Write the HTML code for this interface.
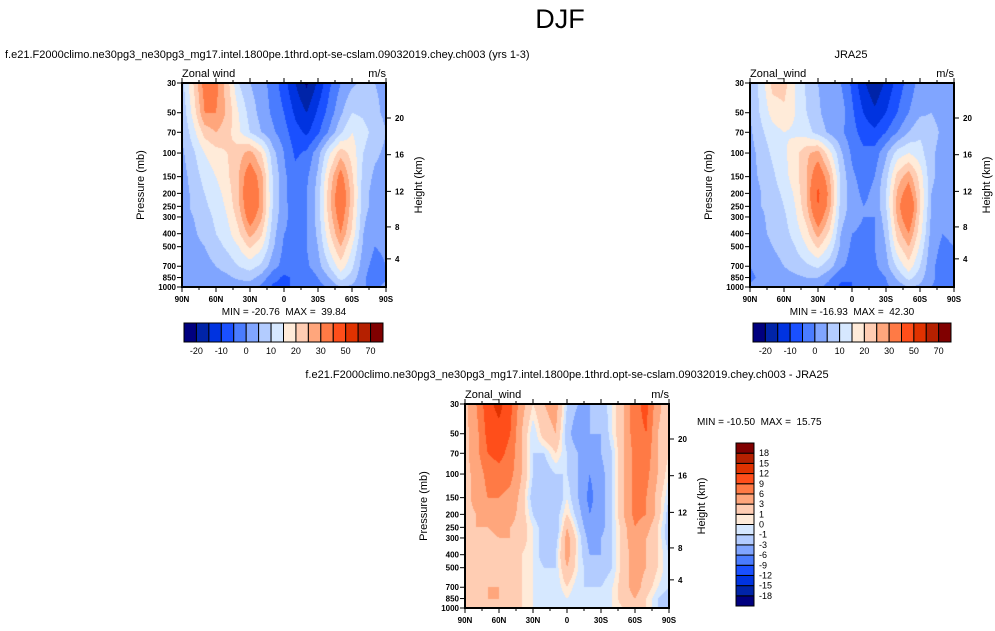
<!DOCTYPE html>
<html><head><meta charset="utf-8">
<style>
body{margin:0;background:#fff;width:995px;height:631px;overflow:hidden;position:relative;font-family:"Liberation Sans",sans-serif;}
canvas{position:absolute;}
svg{position:absolute;left:0;top:0;}
</style></head>
<body>
<canvas id="c1"></canvas>
<canvas id="c2"></canvas>
<canvas id="c3"></canvas>
<svg id="ov" width="995" height="631"></svg>
<script>
const lats = [90,80,70,60,50,40,30,20,10,0,-10,-20,-30,-40,-50,-60,-70,-80,-90];
const pres = [30,50,70,100,150,200,250,300,400,500,700,850,1000];
const presTicks = [30,50,70,100,150,200,250,300,400,500,700,850,1000];
const latTicks = [90,60,30,0,-30,-60,-90];
const latTickLabels = ["90N","60N","30N","0","30S","60S","90S"];
const heightTicks = [4,8,12,16,20];
const windLevels = [-20,-15,-10,-5,0,5,10,15,20,25,30,40,50,60,70];
const windLabels = ["-20","-10","0","10","20","30","50","70"];
const diffLevels = [-18,-15,-12,-9,-6,-3,-1,0,1,3,6,9,12,15,18];
const colors = ["#00007f","#0024a8","#0033e0","#1a50ff","#4a7cff","#80a5ff","#b3ccff","#d6e8ff","#ffebd9","#ffcdb3","#ffa67c","#ff7a45","#ff4e1a","#e03200","#b52000","#800000"];

const modelU = [
[8,20,33,32,22,10,5,2,-2,-8,-15,-21,-14,-6,0,4,6,5,4],
[6,17,30,30,24,15,8,3,-1,-5,-11,-15,-9,-3,4,10,9,6,4],
[5,13,22,25,22,16,10,5,1,-3,-8,-11,-6,1,9,15,12,8,5],
[4,9,15,18,20,23,27,20,7,0,-6,-4,3,14,23,18,10,6,4],
[3,7,12,15,19,25,35,27,10,1,-3,-1,6,21,33,21,8,4,3],
[3,6,10,13,17,25,38,28,10,1,-3,0,7,23,36,23,7,3,2],
[3,6,9,12,16,24,37,28,10,1,-2,0,7,23,36,22,7,3,2],
[3,5,8,11,15,22,34,26,9,1,-2,0,7,22,34,21,6,2,2],
[2,4,7,10,13,19,27,21,7,0,-1,0,6,19,30,19,5,1,2],
[2,3,5,8,11,15,21,16,6,-1,-1,0,5,16,25,15,4,0,1],
[1,2,3,5,7,10,12,9,2,-2,-2,-1,3,10,18,11,2,-2,0],
[2,2,2,3,4,6,7,3,-3,-6,-4,-4,0,5,12,8,1,-3,-2],
[3,2,1,1,1,2,2,-1,-6,-7,-3,-5,-2,1,5,4,1,-3,3]];
const jraU = [
[6,12,22,22,15,9,5,2,0,-6,-14,-19,-14,-8,-3,2,4,3,1],
[5,11,17,19,15,10,6,2,3,-4,-10,-14,-10,-5,0,4,5,3,1],
[4,9,13,15,14,12,8,4,1,-3,-7,-9,-5,0,5,9,7,4,2],
[3,7,11,14,18,24,27,17,6,-1,-4,-3,4,12,15,12,6,3,2],
[3,6,9,13,18,25,36,26,9,1,-2,0,8,22,28,18,6,3,2],
[2,5,8,11,16,25,42,28,9,2,-1,1,10,26,34,20,5,2,1],
[2,5,7,10,15,24,40,27,8,3,0,1,10,27,40,20,5,2,1],
[2,4,7,9,14,22,35,24,7,2,0,0,8,26,36,19,4,1,1],
[1,4,6,8,12,18,27,19,5,0,-1,0,6,22,30,17,3,0,1],
[1,3,5,7,10,15,21,14,4,-1,-1,0,5,18,25,14,2,-1,0],
[0,2,3,5,7,9,11,7,1,-2,-2,-1,3,11,18,10,1,-2,-1],
[-1,1,2,3,4,5,5,1,-4,-5,-3,-3,0,6,12,7,1,-2,-2],
[1,1,1,1,1,2,1,-2,-6,-5,-2,-3,-1,2,5,4,0,-2,0]];
const diffU = [
[2,6,11,13,10,4,1,3,4,-1,-3,-3,-2,0,3,8,10,4,1],
[2,5,10,11,9,3,-1,2,3,-2,-5,-3,-3,0,3,8,9,3,1],
[2,5,9,10,8,3,-1,-1,1,-1,-3,-4,-3,-1,3,7,8,3,1],
[2,4,7,8,7,3,-1,-2,-1,-1,-3,-6,-4,-1,3,7,7,3,0],
[2,4,6,6,5,2,-2,-2,-3,0,-3,-7,-4,-1,3,7,6,2,-1],
[2,3,5,6,4,2,-1,-3,-2,1,-2,-6,-4,-1,3,7,6,2,-2],
[2,3,3,4,3,2,0,-2,-3,3,-1,-5,-4,-1,2,6,4,1,-2],
[2,2,2,3,3,2,0,-2,-2,4,0,-4,-3,-1,2,5,3,1,-2],
[2,2,2,2,2,1,0,-2,-1,4,0,-3,-3,-1,2,4,3,1,-1],
[2,2,2,2,2,1,0,-1,-1,3,0,-2,-2,-1,2,4,3,1,-1],
[2,2,3,3,2,1,0,-1,-1,1,-1,-1,-1,0,2,4,2,0,-1],
[2,2,3,3,2,1,0,-1,-1,0,-1,-1,-1,0,2,3,1,-1,-2],
[1,1,2,2,1,1,0,-1,-1,0,-1,-1,-1,0,1,2,1,-1,-2]];

const NS="http://www.w3.org/2000/svg";
const ov=document.getElementById('ov');
function el(tag,attrs,text){const e=document.createElementNS(NS,tag);for(const k in attrs)e.setAttribute(k,attrs[k]);if(text!==undefined)e.textContent=text;ov.appendChild(e);return e;}
const LP0=Math.log(30),LP1=Math.log(1000);
function yOfP(P,t,h){return t+(Math.log(P)-LP0)/(LP1-LP0)*h;}
function xOfLat(lat,l,w){return l+(90-lat)/180*w;}
function pOfZ(z){z*=1000;if(z<=11000)return 1013.25*Math.pow(1-0.0065*z/288.15,5.2559);return 226.32*Math.exp(-(z-11000)/6341.6);}
function colorIdx(v,lv){let i=0;while(i<lv.length&&v>=lv[i])i++;return i;}
function sample(grid,lat,P){
  let fj=(90-lat)/10;fj=Math.max(0,Math.min(17.9999,fj));const j=Math.floor(fj),dj=fj-j;
  let i=0;while(i<pres.length-2&&P>pres[i+1])i++;
  let di=(Math.log(P)-Math.log(pres[i]))/(Math.log(pres[i+1])-Math.log(pres[i]));di=Math.max(0,Math.min(1,di));
  const a=grid[i][j],b=grid[i][j+1],c=grid[i+1][j],d=grid[i+1][j+1];
  return (a*(1-dj)+b*dj)*(1-di)+(c*(1-dj)+d*dj)*di;
}
function hex(c){return [parseInt(c.slice(1,3),16),parseInt(c.slice(3,5),16),parseInt(c.slice(5,7),16)];}
const rgb=colors.map(hex);

function panel(id,grid,lv,L,T,W,H,leftTitle){
  const cv=document.getElementById(id);cv.width=W;cv.height=H;cv.style.left=L+'px';cv.style.top=T+'px';
  const ctx=cv.getContext('2d');const img=ctx.createImageData(W,H);
  for(let y=0;y<H;y++){const P=Math.exp(LP0+(y+0.5)/H*(LP1-LP0));
    for(let x=0;x<W;x++){const lat=90-(x+0.5)/W*180;const v=sample(grid,lat,P);const c=rgb[colorIdx(v,lv)];
      const k=(y*W+x)*4;img.data[k]=c[0];img.data[k+1]=c[1];img.data[k+2]=c[2];img.data[k+3]=255;}}
  ctx.putImageData(img,0,0);
  el('rect',{x:L,y:T,width:W,height:H,fill:'none',stroke:'#000','stroke-width':2,});
  presTicks.forEach(P=>{const y=yOfP(P,T,H);
    el('line',{x1:L-5,y1:y,x2:L,y2:y,stroke:'#000','stroke-width':1});
    el('text',{x:L-6,y:y+3,'font-size':8,'text-anchor':'end','font-weight':'bold',},P);});
  heightTicks.forEach(z=>{const y=yOfP(pOfZ(z),T,H);
    el('line',{x1:L+W,y1:y,x2:L+W+5,y2:y,stroke:'#000','stroke-width':1});
    el('text',{x:L+W+9,y:y+3,'font-size':8,'font-weight':'bold',},z);});
  latTicks.forEach((lat,k)=>{const x=xOfLat(lat,L,W);
    el('line',{x1:x,y1:T+H,x2:x,y2:T+H+5,stroke:'#000','stroke-width':1});
    el('line',{x1:x,y1:T,x2:x,y2:T-5,stroke:'#000','stroke-width':1});
    el('text',{x:x,y:T+H+15,'font-size':8,'text-anchor':'middle','font-weight':'bold',},latTickLabels[k]);});
  for(let lat=-75;lat<=75;lat+=15){if(lat%30===0)continue;const x=xOfLat(lat,L,W);
    el('line',{x1:x,y1:T+H,x2:x,y2:T+H+3,stroke:'#000','stroke-width':1});
    el('line',{x1:x,y1:T,x2:x,y2:T-3,stroke:'#000','stroke-width':1});}
  el('text',{x:L,y:T-6,'font-size':11,},leftTitle);
  el('text',{x:L+W,y:T-6,'font-size':11,'text-anchor':'end',},'m/s');
  el('text',{x:0,y:0,'font-size':11,'text-anchor':'middle',transform:`translate(${L-38},${T+H/2}) rotate(-90)`,},'Pressure (mb)');
  el('text',{x:0,y:0,'font-size':11,'text-anchor':'middle',transform:`translate(${L+W+36},${T+H/2}) rotate(-90)`,},'Height (km)');
}
function hbar(L,T,W,H){const bw=W/colors.length;
  colors.forEach((c,i)=>{el('rect',{x:L+i*bw,y:T,width:bw,height:H,fill:c,stroke:'#000','stroke-width':1,});});
  windLabels.forEach((t,k)=>{el('text',{x:L+(2*k+1)*bw,y:T+H+12,'font-size':9,'text-anchor':'middle',},t);});
}
el('text',{x:560,y:28,'font-size':27,'text-anchor':'middle',},'DJF');
el('text',{x:5,y:58,'font-size':11,},'f.e21.F2000climo.ne30pg3_ne30pg3_mg17.intel.1800pe.1thrd.opt-se-cslam.09032019.chey.ch003 (yrs 1-3)');
el('text',{x:851,y:58,'font-size':11,'text-anchor':'middle',},'JRA25');
el('text',{x:567,y:378,'font-size':11,'text-anchor':'middle',},'f.e21.F2000climo.ne30pg3_ne30pg3_mg17.intel.1800pe.1thrd.opt-se-cslam.09032019.chey.ch003 - JRA25');
panel('c1',modelU,windLevels,182,83,204,204,'Zonal wind');
panel('c2',jraU,windLevels,750,83,204,204,'Zonal_wind');
panel('c3',diffU,diffLevels,465,404,204,204,'Zonal_wind');
el('text',{x:284,y:315,'font-size':10,'text-anchor':'middle',},'MIN = -20.76\u00a0 MAX = \u00a039.84');
el('text',{x:852,y:315,'font-size':10,'text-anchor':'middle',},'MIN = -16.93\u00a0 MAX = \u00a042.30');
el('text',{x:697,y:425,'font-size':10,},'MIN = -10.50\u00a0 MAX = \u00a015.75');
hbar(184,323,199,19);
hbar(753,323,198,19);
(function(){const L=736,T=443,W=18,H=163,bh=H/colors.length;
  colors.forEach((c,i)=>{el('rect',{x:L,y:T+H-(i+1)*bh,width:W,height:bh,fill:c,stroke:'#000','stroke-width':1,});});
  diffLevels.forEach((v,k)=>{el('text',{x:L+W+5,y:T+H-(k+1)*bh+3,'font-size':9,},v);});
})();
</script>
</body></html>
